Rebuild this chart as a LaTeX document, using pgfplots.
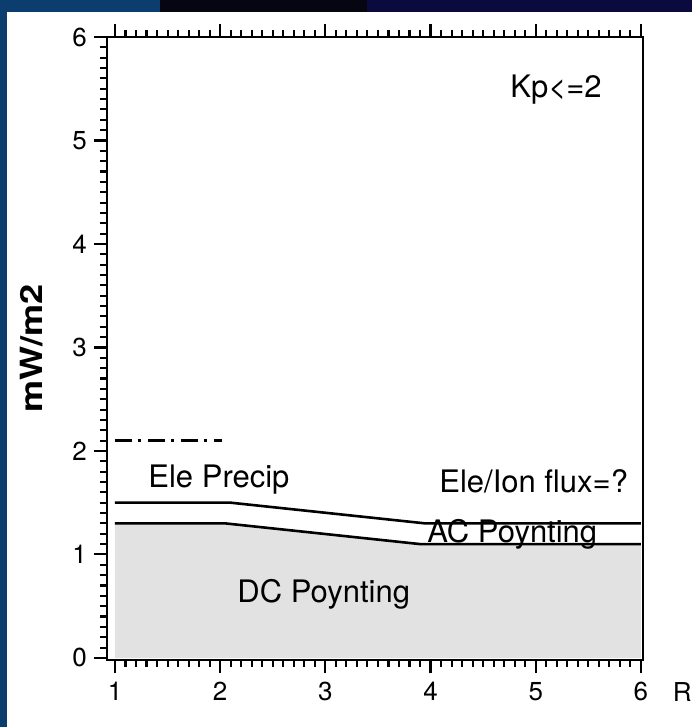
\documentclass[border=0pt]{standalone}
\usepackage{pgfplots}
\pgfplotsset{compat=1.18}
\usepackage{fontspec}
\setmainfont{TeX Gyre Heros}
\usepackage{graphicx}
\definecolor{slideblue}{RGB}{11,61,111}
\definecolor{slideblack}{RGB}{6,6,18}
\definecolor{slidenavy}{RGB}{10,10,62}
\definecolor{fillgray}{RGB}{226,226,226}
\begin{document}
\begin{tikzpicture}[x=1pt,y=1pt]
\fill[slideblue] (0,0) rectangle (346,363.5);
\fill[slideblack] (80,357.5) rectangle (183.5,363.5);
\fill[slidenavy] (183.5,357.5) rectangle (346,363.5);
\fill[white] (3.5,0) rectangle (346,357.5);
\useasboundingbox (0,0) rectangle (346,363.5);
\begin{axis}[
  at={(53.5pt,33.5pt)}, anchor=south west,
  scale only axis, width=268pt, height=311.5pt,
  xmin=0.924, xmax=6.02, ymin=-0.02, ymax=6,
  axis line style={line width=1.2pt},
  every tick/.style={black, line width=1.05pt},
  major tick length=6.5pt, minor tick length=3.5pt,
  tick align=outside,
  xtick={1,2,3,4,5,6}, ytick={0,1,2,3,4,5,6},
  minor x tick num=9, minor y tick num=9,
  xtick pos=both, ytick pos=left,
  xticklabel pos=bottom,
  tick label style={font=\fontsize{13}{15}\selectfont},
  xticklabel style={yshift=-1pt},
  /pgf/number format/assume math mode=true,
  ylabel={\scalebox{1.18}[1]{mW/m2}},
  ylabel style={font=\bfseries\fontsize{15.3}{18}\selectfont, at={(rel axis cs:-0.14,0.5)}, anchor=center},
  xlabel={R},
  xlabel style={font=\fontsize{13}{15}\selectfont, at={(rel axis cs:1.073,-0.051)}, anchor=center},
  clip=false,
]
\addplot[fill=fillgray, draw=none] coordinates {(1,1.3) (2.05,1.3) (3.9,1.1) (6,1.1)} \closedcycle;
\addplot[black, line width=1.3pt] coordinates {(1,1.3) (2.05,1.3) (3.9,1.1) (6,1.1)};
\addplot[black, line width=1.3pt] coordinates {(1,1.5) (2.1,1.5) (3.95,1.3) (6,1.3)};
\addplot[black, line width=1.3pt, dash pattern=on 8.5pt off 3pt on 1.5pt off 3.5pt] coordinates {(1,2.1) (2.02,2.1)};
\node[anchor=base west, inner sep=0, font=\fontsize{15.5}{18}\selectfont] at (axis cs:4.755,5.42) {Kp<=2};
\node[anchor=base west, inner sep=0, font=\fontsize{15.5}{18}\selectfont] at (axis cs:1.314,1.643) {Ele Precip};
\node[anchor=base west, inner sep=0, font=\fontsize{15.5}{18}\selectfont] at (axis cs:4.08,1.594) {Ele/Ion flux=?};
\node[anchor=base west, inner sep=0, font=\fontsize{15.5}{18}\selectfont] at (axis cs:3.966,1.12) {AC Poynting};
\node[anchor=base west, inner sep=0, font=\fontsize{15.5}{18}\selectfont] at (axis cs:2.16,0.54) {DC Poynting};
\end{axis}
\end{tikzpicture}
\end{document}
